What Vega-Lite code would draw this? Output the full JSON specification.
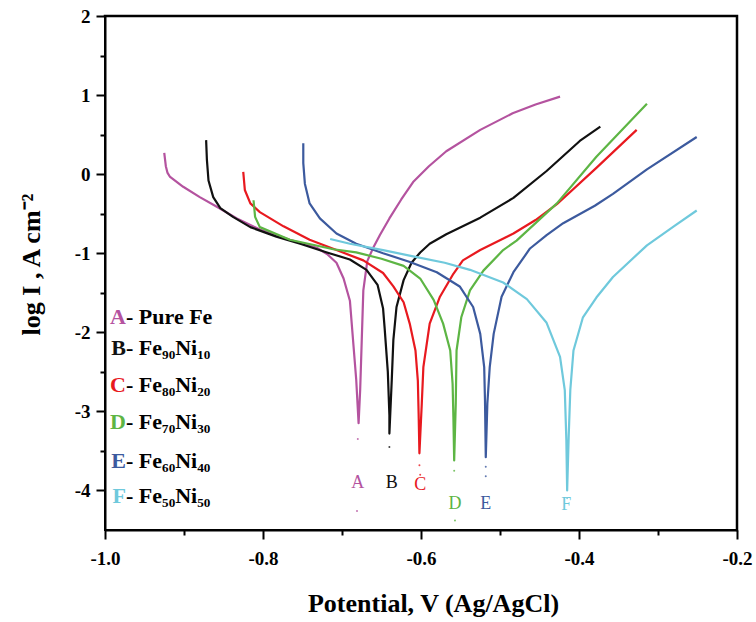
{
  "$schema": "https://vega.github.io/schema/vega-lite/v6.json",
  "width": 632,
  "height": 514,
  "autosize": {"type": "none"},
  "padding": {"left": 105, "top": 16, "right": 19, "bottom": 92},
  "background": "white",
  "config": {
    "view": {"stroke": "black", "strokeWidth": 2},
    "font": "Liberation Serif",
    "axis": {"grid": false, "domainColor": "black", "domainWidth": 2, "tickColor": "black", "tickWidth": 2,
      "labelFont": "Liberation Serif", "labelFontWeight": "bold", "labelFontSize": 19, "labelColor": "black",
      "titleFont": "Liberation Serif", "titleFontWeight": "bold", "titleFontSize": 26, "titleColor": "black"}
  },
  "datasets": {
    "frame": [
      {"k": 1, "v": -1.0, "logI": 2},
      {"k": 2, "v": -0.2, "logI": 2},
      {"k": 3, "v": -0.2, "logI": -4.5}
    ],
    "curves": [
      {"s":"A","i":1,"v":-0.925,"logI":0.27},{"s":"A","i":2,"v":-0.923,"logI":0.10},{"s":"A","i":3,"v":-0.921,"logI":0.02},{"s":"A","i":4,"v":-0.918,"logI":-0.03},{"s":"A","i":5,"v":-0.901,"logI":-0.16},{"s":"A","i":6,"v":-0.880,"logI":-0.29},{"s":"A","i":7,"v":-0.859,"logI":-0.41},{"s":"A","i":8,"v":-0.833,"logI":-0.56},{"s":"A","i":9,"v":-0.804,"logI":-0.70},{"s":"A","i":10,"v":-0.766,"logI":-0.83},{"s":"A","i":11,"v":-0.732,"logI":-0.93},{"s":"A","i":12,"v":-0.719,"logI":-1.01},{"s":"A","i":13,"v":-0.707,"logI":-1.12},{"s":"A","i":14,"v":-0.698,"logI":-1.32},{"s":"A","i":15,"v":-0.690,"logI":-1.60},{"s":"A","i":16,"v":-0.686,"logI":-2.10},{"s":"A","i":17,"v":-0.682,"logI":-2.60},{"s":"A","i":18,"v":-0.679,"logI":-3.15},{"s":"A","i":19,"v":-0.677,"logI":-2.73},{"s":"A","i":20,"v":-0.675,"logI":-2.10},{"s":"A","i":21,"v":-0.673,"logI":-1.47},{"s":"A","i":22,"v":-0.668,"logI":-1.10},{"s":"A","i":23,"v":-0.660,"logI":-0.92},{"s":"A","i":24,"v":-0.652,"logI":-0.77},{"s":"A","i":25,"v":-0.640,"logI":-0.56},{"s":"A","i":26,"v":-0.625,"logI":-0.32},{"s":"A","i":27,"v":-0.610,"logI":-0.10},{"s":"A","i":28,"v":-0.590,"logI":0.10},{"s":"A","i":29,"v":-0.568,"logI":0.29},{"s":"A","i":30,"v":-0.525,"logI":0.56},{"s":"A","i":31,"v":-0.484,"logI":0.77},{"s":"A","i":32,"v":-0.455,"logI":0.88},{"s":"A","i":33,"v":-0.424,"logI":0.98},
      {"s":"B","i":1,"v":-0.872,"logI":0.43},{"s":"B","i":2,"v":-0.871,"logI":0.18},{"s":"B","i":3,"v":-0.869,"logI":-0.08},{"s":"B","i":4,"v":-0.863,"logI":-0.29},{"s":"B","i":5,"v":-0.854,"logI":-0.43},{"s":"B","i":6,"v":-0.838,"logI":-0.54},{"s":"B","i":7,"v":-0.816,"logI":-0.67},{"s":"B","i":8,"v":-0.783,"logI":-0.79},{"s":"B","i":9,"v":-0.753,"logI":-0.88},{"s":"B","i":10,"v":-0.719,"logI":-0.99},{"s":"B","i":11,"v":-0.690,"logI":-1.08},{"s":"B","i":12,"v":-0.669,"logI":-1.21},{"s":"B","i":13,"v":-0.655,"logI":-1.40},{"s":"B","i":14,"v":-0.648,"logI":-1.70},{"s":"B","i":15,"v":-0.646,"logI":-1.95},{"s":"B","i":16,"v":-0.642,"logI":-2.50},{"s":"B","i":17,"v":-0.640,"logI":-3.05},{"s":"B","i":18,"v":-0.640,"logI":-3.28},{"s":"B","i":19,"v":-0.637,"logI":-2.60},{"s":"B","i":20,"v":-0.635,"logI":-2.10},{"s":"B","i":21,"v":-0.631,"logI":-1.68},{"s":"B","i":22,"v":-0.622,"logI":-1.34},{"s":"B","i":23,"v":-0.612,"logI":-1.12},{"s":"B","i":24,"v":-0.601,"logI":-0.99},{"s":"B","i":25,"v":-0.589,"logI":-0.88},{"s":"B","i":26,"v":-0.568,"logI":-0.76},{"s":"B","i":27,"v":-0.525,"logI":-0.55},{"s":"B","i":28,"v":-0.483,"logI":-0.30},{"s":"B","i":29,"v":-0.441,"logI":0.04},{"s":"B","i":30,"v":-0.399,"logI":0.42},{"s":"B","i":31,"v":-0.373,"logI":0.60},
      {"s":"C","i":1,"v":-0.825,"logI":0.03},{"s":"C","i":2,"v":-0.823,"logI":-0.20},{"s":"C","i":3,"v":-0.816,"logI":-0.37},{"s":"C","i":4,"v":-0.804,"logI":-0.48},{"s":"C","i":5,"v":-0.774,"logI":-0.66},{"s":"C","i":6,"v":-0.741,"logI":-0.83},{"s":"C","i":7,"v":-0.707,"logI":-0.96},{"s":"C","i":8,"v":-0.673,"logI":-1.09},{"s":"C","i":9,"v":-0.648,"logI":-1.25},{"s":"C","i":10,"v":-0.635,"logI":-1.42},{"s":"C","i":11,"v":-0.622,"logI":-1.62},{"s":"C","i":12,"v":-0.614,"logI":-1.90},{"s":"C","i":13,"v":-0.607,"logI":-2.23},{"s":"C","i":14,"v":-0.604,"logI":-2.61},{"s":"C","i":15,"v":-0.603,"logI":-3.03},{"s":"C","i":16,"v":-0.602,"logI":-3.53},{"s":"C","i":17,"v":-0.599,"logI":-2.90},{"s":"C","i":18,"v":-0.597,"logI":-2.44},{"s":"C","i":19,"v":-0.589,"logI":-1.89},{"s":"C","i":20,"v":-0.576,"logI":-1.55},{"s":"C","i":21,"v":-0.559,"logI":-1.26},{"s":"C","i":22,"v":-0.547,"logI":-1.09},{"s":"C","i":23,"v":-0.525,"logI":-0.96},{"s":"C","i":24,"v":-0.483,"logI":-0.75},{"s":"C","i":25,"v":-0.455,"logI":-0.58},{"s":"C","i":26,"v":-0.428,"logI":-0.38},{"s":"C","i":27,"v":-0.378,"logI":0.08},{"s":"C","i":28,"v":-0.327,"logI":0.56},
      {"s":"D","i":1,"v":-0.812,"logI":-0.33},{"s":"D","i":2,"v":-0.810,"logI":-0.54},{"s":"D","i":3,"v":-0.804,"logI":-0.67},{"s":"D","i":4,"v":-0.766,"logI":-0.83},{"s":"D","i":5,"v":-0.711,"logI":-0.95},{"s":"D","i":6,"v":-0.682,"logI":-0.99},{"s":"D","i":7,"v":-0.650,"logI":-1.07},{"s":"D","i":8,"v":-0.622,"logI":-1.16},{"s":"D","i":9,"v":-0.601,"logI":-1.32},{"s":"D","i":10,"v":-0.584,"logI":-1.59},{"s":"D","i":11,"v":-0.572,"logI":-1.89},{"s":"D","i":12,"v":-0.563,"logI":-2.23},{"s":"D","i":13,"v":-0.560,"logI":-2.65},{"s":"D","i":14,"v":-0.559,"logI":-3.07},{"s":"D","i":15,"v":-0.558,"logI":-3.62},{"s":"D","i":16,"v":-0.556,"logI":-2.90},{"s":"D","i":17,"v":-0.555,"logI":-2.23},{"s":"D","i":18,"v":-0.549,"logI":-1.81},{"s":"D","i":19,"v":-0.538,"logI":-1.47},{"s":"D","i":20,"v":-0.521,"logI":-1.22},{"s":"D","i":21,"v":-0.496,"logI":-0.96},{"s":"D","i":22,"v":-0.479,"logI":-0.84},{"s":"D","i":23,"v":-0.455,"logI":-0.62},{"s":"D","i":24,"v":-0.428,"logI":-0.37},{"s":"D","i":25,"v":-0.378,"logI":0.22},{"s":"D","i":26,"v":-0.314,"logI":0.89},
      {"s":"E","i":1,"v":-0.749,"logI":0.39},{"s":"E","i":2,"v":-0.749,"logI":0.14},{"s":"E","i":3,"v":-0.747,"logI":-0.12},{"s":"E","i":4,"v":-0.741,"logI":-0.37},{"s":"E","i":5,"v":-0.728,"logI":-0.56},{"s":"E","i":6,"v":-0.707,"logI":-0.75},{"s":"E","i":7,"v":-0.682,"logI":-0.88},{"s":"E","i":8,"v":-0.648,"logI":-1.00},{"s":"E","i":9,"v":-0.614,"logI":-1.11},{"s":"E","i":10,"v":-0.580,"logI":-1.24},{"s":"E","i":11,"v":-0.551,"logI":-1.42},{"s":"E","i":12,"v":-0.534,"logI":-1.68},{"s":"E","i":13,"v":-0.525,"logI":-2.02},{"s":"E","i":14,"v":-0.520,"logI":-2.44},{"s":"E","i":15,"v":-0.519,"logI":-2.86},{"s":"E","i":16,"v":-0.518,"logI":-3.58},{"s":"E","i":17,"v":-0.516,"logI":-2.90},{"s":"E","i":18,"v":-0.513,"logI":-2.44},{"s":"E","i":19,"v":-0.508,"logI":-2.02},{"s":"E","i":20,"v":-0.498,"logI":-1.55},{"s":"E","i":21,"v":-0.483,"logI":-1.24},{"s":"E","i":22,"v":-0.462,"logI":-0.94},{"s":"E","i":23,"v":-0.441,"logI":-0.77},{"s":"E","i":24,"v":-0.420,"logI":-0.62},{"s":"E","i":25,"v":-0.380,"logI":-0.40},{"s":"E","i":26,"v":-0.357,"logI":-0.25},{"s":"E","i":27,"v":-0.314,"logI":0.06},{"s":"E","i":28,"v":-0.251,"logI":0.47},
      {"s":"F","i":1,"v":-0.715,"logI":-0.82},{"s":"F","i":2,"v":-0.690,"logI":-0.88},{"s":"F","i":3,"v":-0.648,"logI":-0.96},{"s":"F","i":4,"v":-0.610,"logI":-1.04},{"s":"F","i":5,"v":-0.570,"logI":-1.12},{"s":"F","i":6,"v":-0.538,"logI":-1.21},{"s":"F","i":7,"v":-0.496,"logI":-1.37},{"s":"F","i":8,"v":-0.466,"logI":-1.58},{"s":"F","i":9,"v":-0.441,"logI":-1.88},{"s":"F","i":10,"v":-0.424,"logI":-2.31},{"s":"F","i":11,"v":-0.418,"logI":-2.73},{"s":"F","i":12,"v":-0.416,"logI":-3.37},{"s":"F","i":13,"v":-0.415,"logI":-4.00},{"s":"F","i":14,"v":-0.413,"logI":-3.30},{"s":"F","i":15,"v":-0.411,"logI":-2.73},{"s":"F","i":16,"v":-0.407,"logI":-2.23},{"s":"F","i":17,"v":-0.395,"logI":-1.81},{"s":"F","i":18,"v":-0.378,"logI":-1.56},{"s":"F","i":19,"v":-0.357,"logI":-1.30},{"s":"F","i":20,"v":-0.314,"logI":-0.90},{"s":"F","i":21,"v":-0.280,"logI":-0.66},{"s":"F","i":22,"v":-0.251,"logI":-0.46}
    ],
    "tails": [
      {"s":"A","v":-0.680,"logI":-3.35},{"s":"A","v":-0.681,"logI":-4.26},
      {"s":"B","v":-0.640,"logI":-3.45},{"s":"B","v":-0.641,"logI":-3.82},
      {"s":"C","v":-0.602,"logI":-3.68},{"s":"C","v":-0.601,"logI":-3.80},
      {"s":"D","v":-0.558,"logI":-3.75},{"s":"D","v":-0.557,"logI":-4.38},
      {"s":"E","v":-0.518,"logI":-3.70},{"s":"E","v":-0.518,"logI":-3.82},
      {"s":"F","v":-0.415,"logI":-4.10}
    ],
    "marks": [
      {"s":"A","v":-0.680,"logI":-3.97},
      {"s":"B","v":-0.637,"logI":-3.97},
      {"s":"C","v":-0.601,"logI":-4.00},
      {"s":"D","v":-0.557,"logI":-4.23},
      {"s":"E","v":-0.518,"logI":-4.23},
      {"s":"F","v":-0.416,"logI":-4.25}
    ],
    "legend": [
      {"s":"A","rest":"- Pure Fe","v":-0.9734,"logI":-1.89},
      {"s":"B","rest":"- Fe₉₀Ni₁₀","v":-0.9734,"logI":-2.29},
      {"s":"C","rest":"- Fe₈₀Ni₂₀","v":-0.9734,"logI":-2.76},
      {"s":"D","rest":"- Fe₇₀Ni₃₀","v":-0.9734,"logI":-3.22},
      {"s":"E","rest":"- Fe₆₀Ni₄₀","v":-0.9734,"logI":-3.71},
      {"s":"F","rest":"- Fe₅₀Ni₅₀","v":-0.9734,"logI":-4.16}
    ]
  },
  "encoding": {
    "x": {"field": "v", "type": "quantitative",
      "scale": {"domain": [-1.0, -0.2], "nice": false, "zero": false},
      "axis": {"title": "Potential, V (Ag/AgCl)", "values": [-1.0,-0.9,-0.8,-0.7,-0.6,-0.5,-0.4,-0.3,-0.2],
        "labelExpr": "abs(round(datum.value*10)) % 2 == 0 ? (datum.value < 0 ? '-' : '') + format(abs(datum.value), '.1f') : ''",
        "labelFlush": false, "labelOverlap": false, "labelPadding": 10, "titlePadding": 22, "titleX": 328,
        "tickSize": {"condition": {"test": "abs(round(datum.value*10)) % 2 == 0", "value": 9}, "value": 5}}},
    "y": {"field": "logI", "type": "quantitative",
      "scale": {"domain": [-4.5, 2], "nice": false, "zero": false},
      "axis": {"title": "log I , A cm⁻²", "values": [-4,-3.5,-3,-2.5,-2,-1.5,-1,-0.5,0,0.5,1,1.5,2],
        "labelExpr": "datum.value % 1 == 0 ? (datum.value < 0 ? '-' : '') + abs(datum.value) : ''",
        "labelFlush": false, "labelOverlap": false, "labelPadding": 6, "titlePadding": 30, "titleY": 248,
        "tickSize": {"condition": {"test": "datum.value % 1 == 0", "value": 9}, "value": 5}}},
    "color": {"field": "s", "type": "nominal",
      "scale": {"domain": ["A","B","C","D","E","F"], "range": ["#b4539f","#111111","#e8191f","#5db544","#3c5a9e","#6fc9dc"]},
      "legend": null}
  },
  "layer": [
    {"data": {"name": "frame"},
     "mark": {"type": "line", "strokeWidth": 2.5, "strokeCap": "square"},
     "encoding": {"order": {"field": "k", "type": "quantitative"}, "color": {"value": "black"}}},
    {"data": {"name": "curves"},
     "mark": {"type": "line", "interpolate": "linear", "strokeJoin": "round"},
     "encoding": {
       "order": {"field": "i", "type": "quantitative"},
       "strokeWidth": {"field": "s", "type": "nominal", "scale": {"domain": ["A","B","C","D","E","F"], "range": [2.2,2.2,2,1.4,1.4,1.4]}, "legend": null}
     }},
    {"data": {"name": "tails"},
     "mark": {"type": "point", "filled": true, "size": 4, "opacity": 0.8}},
    {"data": {"name": "marks"},
     "mark": {"type": "text", "font": "Liberation Serif", "fontSize": 18, "align": "center", "baseline": "alphabetic"},
     "encoding": {"text": {"field": "s"}}},
    {"data": {"name": "legend"},
     "mark": {"type": "text", "font": "Liberation Serif", "fontSize": 22, "fontWeight": "bold", "align": "right", "baseline": "alphabetic"},
     "encoding": {"text": {"field": "s"}}},
    {"data": {"name": "legend"},
     "mark": {"type": "text", "font": "Liberation Serif", "fontSize": 22, "fontWeight": "bold", "align": "left", "baseline": "alphabetic"},
     "encoding": {"text": {"field": "rest"}, "color": {"value": "black"}}}
  ]
}
